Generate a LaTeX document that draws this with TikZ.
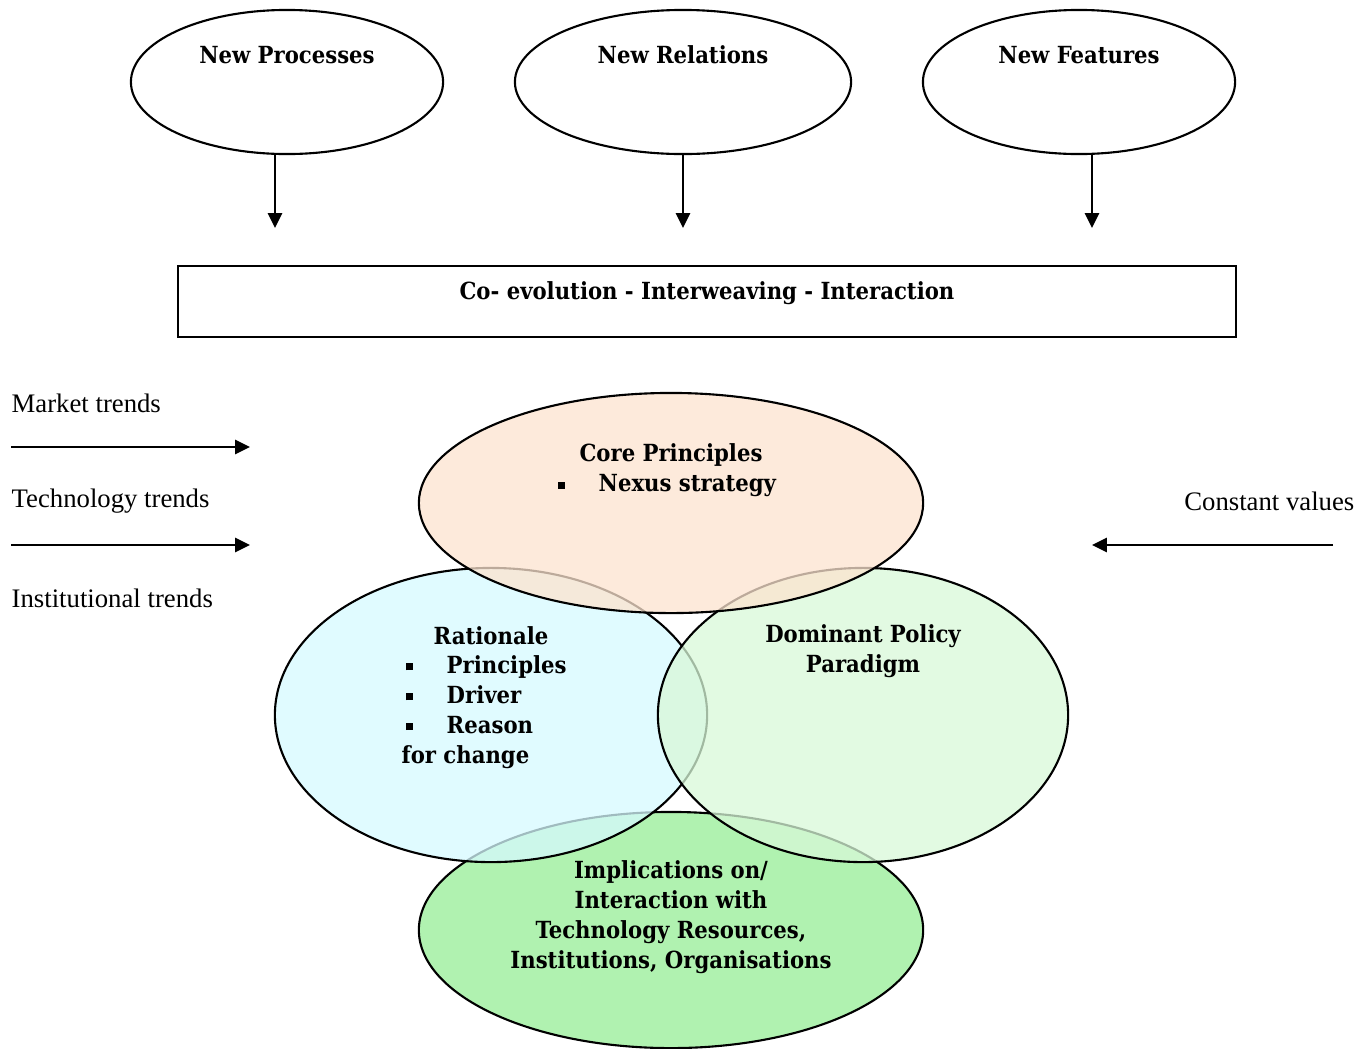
\documentclass[tikz,border=0pt]{standalone}
\usepackage{fontspec}
\setmainfont{Liberation Serif}
\newfontfamily\lblfont{DejaVu Serif Condensed}
\usetikzlibrary{arrows.meta, positioning, shapes.geometric}
\definecolor{cPeach}{HTML}{FCE3CF}
\definecolor{cCyan}{HTML}{D6FAFF}
\definecolor{cPale}{HTML}{D8F8D8}
\definecolor{cGreen}{HTML}{96EE96}
\newcommand{\sqbul}{\makebox[0.45cm][l]{\hspace{0.04cm}\rule[0.25ex]{0.07cm}{0.07cm}}}
\tikzset{
  oval/.style={draw, ellipse, line width=0.6pt, inner sep=0pt},
  venn/.style={oval, fill opacity=0.75},
  lbl/.style={font=\lblfont\bfseries\fontsize{6.7}{8.5}\selectfont, inner sep=0pt},
  side/.style={font=\fontsize{7.6}{9}\selectfont, inner sep=0pt},
  arr/.style={-{Triangle[length=4.2pt,width=4pt]}, line width=0.6pt},
}
\begin{document}
\begin{tikzpicture}[x=0.01cm, y=-0.01cm]
    \useasboundingbox (0,0) rectangle (1371,1048);
    % top ovals
    \node[oval, minimum width=3.12cm, minimum height=1.44cm] (np) at (287,82) {};
    \node[oval, minimum width=3.36cm, minimum height=1.44cm] (nr) at (683,82) {};
    \node[oval, minimum width=3.12cm, minimum height=1.44cm] (nf) at (1079,82) {};
    \node[lbl] (nptxt) at (287,55) {New Processes};
    \node[lbl] (nrtxt) at (683,55) {New Relations};
    \node[lbl] (nftxt) at (1079,55) {New Features};
    \coordinate (npend) at (275,228);
    \coordinate (nrend) at (683,228);
    \coordinate (nfend) at (1092,228);
    \draw[arr] (np.south -| npend) -- (npend);
    \draw[arr] (nr.south -| nrend) -- (nrend);
    \draw[arr] (nf.south -| nfend) -- (nfend);
    % box
    \node[draw, line width=0.7pt, minimum width=10.57cm, minimum height=0.71cm] (coev) at (707,301.5) {};
    \node[lbl] (coevtxt) at (707,293) {Co- evolution - Interweaving - Interaction};
    % side trends
    \node[side, anchor=west] (mkt) at (11,403) {Market trends};
    \node[side, anchor=west] (tech) at (11,501) {Technology trends};
    \node[side, anchor=west] (inst) at (11,598) {Institutional trends};
    \node[side, anchor=east] (const) at (1355,501) {Constant values};
    \coordinate (m1) at (11,447);   \coordinate (m2) at (250,447);
    \coordinate (t1) at (11,545);   \coordinate (t2) at (250,545);
    \coordinate (c1) at (1333,545); \coordinate (c2) at (1092,545);
    \draw[arr] (m1) -- (m2);
    \draw[arr] (t1) -- (t2);
    \draw[arr] (c1) -- (c2);
    % venn ovals
    \node[venn, fill=cGreen, minimum width=5.04cm, minimum height=2.36cm] (impl) at (671,930) {};
    \node[venn, fill=cCyan, minimum width=4.32cm, minimum height=2.94cm] (rat) at (491,715) {};
    \node[venn, fill=cPale, minimum width=4.10cm, minimum height=2.94cm] (dom) at (863,715) {};
    \node[venn, fill=cPeach, minimum width=5.04cm, minimum height=2.20cm] (core) at (671,503) {};
    % venn texts
    \node[lbl] (coretxt) at (671,455) {Core Principles};
    \node[lbl, anchor=west] (corelist) at (553,486) {\sqbul Nexus strategy};
    \node[lbl] (rattxt) at (491,636) {Rationale};
    \node[lbl, anchor=west, align=left] (ratlist) at (401,712) {\sqbul Principles\\ \sqbul Driver\\ \sqbul Reason\\ for change};
    \node[lbl, align=center] (domtxt) at (863,651) {Dominant Policy\\ Paradigm};
    \node[lbl, align=center] (impltxt) at (671,917) {Implications on/\\ Interaction with\\ Technology Resources,\\ Institutions, Organisations};
\end{tikzpicture}
\end{document}
